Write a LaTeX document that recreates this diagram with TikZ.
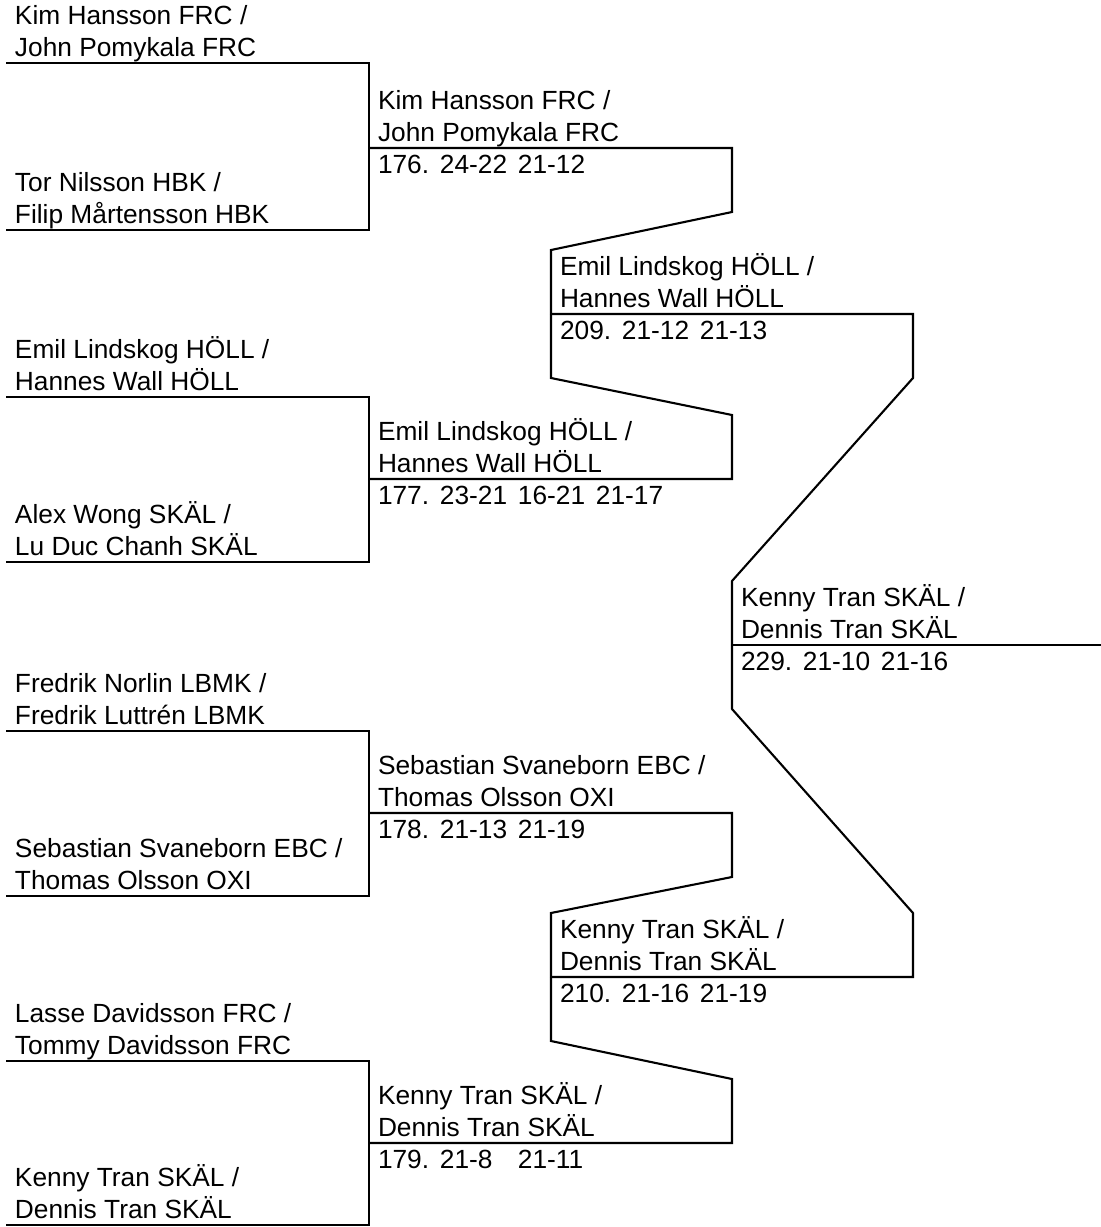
\documentclass[tikz,border=0pt]{standalone}
\usepackage{fontspec}
\setmainfont{Liberation Sans}
\newcommand\scorerow[4]{\makebox[62pt][l]{#1}\makebox[78pt][l]{#2}\makebox[78pt][l]{#3}#4}
\begin{document}
\begin{tikzpicture}[x=1pt,y=-1pt,
  ln/.style={line width=2.1pt,line join=miter},
  txt/.style={anchor=base west,inner sep=0pt,outer sep=0pt,font=\fontsize{26.3}{32}\selectfont}]
\useasboundingbox (0,0) rectangle (1101,1227);
\def\XA{6}\def\XB{369}\def\XC{551}\def\XD{732}\def\XE{913}\def\XF{1101}
\def\dd{64}
% ---------- coordinates: round 1 ----------
\coordinate (a1) at (\XA,63);   \coordinate (a1e) at (\XB,63);
\coordinate (a2) at (\XA,230);  \coordinate (a2e) at (\XB,230);
\coordinate (a3) at (\XA,397);  \coordinate (a3e) at (\XB,397);
\coordinate (a4) at (\XA,562);  \coordinate (a4e) at (\XB,562);
\coordinate (a5) at (\XA,731);  \coordinate (a5e) at (\XB,731);
\coordinate (a6) at (\XA,896);  \coordinate (a6e) at (\XB,896);
\coordinate (a7) at (\XA,1061); \coordinate (a7e) at (\XB,1061);
\coordinate (a8) at (\XA,1225); \coordinate (a8e) at (\XB,1225);
% ---------- round 2 ----------
\coordinate (b1) at (\XB,148);  \coordinate (b1e) at (\XD,148);
\coordinate (b2) at (\XB,479);  \coordinate (b2e) at (\XD,479);
\coordinate (b3) at (\XB,813);  \coordinate (b3e) at (\XD,813);
\coordinate (b4) at (\XB,1143); \coordinate (b4e) at (\XD,1143);
% ---------- round 3 ----------
\coordinate (c1) at (\XC,314);  \coordinate (c1e) at (\XE,314);
\coordinate (c2) at (\XC,977);  \coordinate (c2e) at (\XE,977);
% ---------- final ----------
\coordinate (d1) at (\XD,645);  \coordinate (d1e) at (\XF,645);

% ---------- round 1 brackets ----------
\draw[ln] (a1) -- (a1e) -- (a2e) -- (a2);
\draw[ln] (a3) -- (a3e) -- (a4e) -- (a4);
\draw[ln] (a5) -- (a5e) -- (a6e) -- (a6);
\draw[ln] (a7) -- (a7e) -- (a8e) -- (a8);
% ---------- round 2 lines and connectors ----------
\draw[ln] (b1) -- (b1e) -- ([yshift=-\dd pt]b1e) -- ([yshift=\dd pt]c1) -- (c1);
\draw[ln] (b2) -- (b2e) -- ([yshift=\dd pt]b2e) -- ([yshift=-\dd pt]c1) -- (c1);
\draw[ln] (b3) -- (b3e) -- ([yshift=-\dd pt]b3e) -- ([yshift=\dd pt]c2) -- (c2);
\draw[ln] (b4) -- (b4e) -- ([yshift=\dd pt]b4e) -- ([yshift=-\dd pt]c2) -- (c2);
% ---------- round 3 lines and connectors ----------
\draw[ln] (c1) -- (c1e) -- ([yshift=-\dd pt]c1e) -- ([yshift=\dd pt]d1) -- (d1);
\draw[ln] (c2) -- (c2e) -- ([yshift=\dd pt]c2e) -- ([yshift=-\dd pt]d1) -- (d1);
% ---------- final ----------
\draw[ln] (d1) -- (d1e);

% ---------- names ----------
\node[txt] (t1a) at ([shift={(9,-38.5)}]a1) {Kim Hansson FRC /};
\node[txt] (t1b) at ([shift={(9,-6.5)}]a1) {John Pomykala FRC};
\node[txt] (t2a) at ([shift={(9,-38.5)}]a2) {Tor Nilsson HBK /};
\node[txt] (t2b) at ([shift={(9,-6.5)}]a2) {Filip Mårtensson HBK};
\node[txt] (t3a) at ([shift={(9,-38.5)}]a3) {Emil Lindskog HÖLL /};
\node[txt] (t3b) at ([shift={(9,-6.5)}]a3) {Hannes Wall HÖLL};
\node[txt] (t4a) at ([shift={(9,-38.5)}]a4) {Alex Wong SKÄL /};
\node[txt] (t4b) at ([shift={(9,-6.5)}]a4) {Lu Duc Chanh SKÄL};
\node[txt] (t5a) at ([shift={(9,-38.5)}]a5) {Fredrik Norlin LBMK /};
\node[txt] (t5b) at ([shift={(9,-6.5)}]a5) {Fredrik Luttrén LBMK};
\node[txt] (t6a) at ([shift={(9,-38.5)}]a6) {Sebastian Svaneborn EBC /};
\node[txt] (t6b) at ([shift={(9,-6.5)}]a6) {Thomas Olsson OXI};
\node[txt] (t7a) at ([shift={(9,-38.5)}]a7) {Lasse Davidsson FRC /};
\node[txt] (t7b) at ([shift={(9,-6.5)}]a7) {Tommy Davidsson FRC};
\node[txt] (t8a) at ([shift={(9,-38.5)}]a8) {Kenny Tran SKÄL /};
\node[txt] (t8b) at ([shift={(9,-6.5)}]a8) {Dennis Tran SKÄL};

\node[txt] (u1a) at ([shift={(9,-38.5)}]b1) {Kim Hansson FRC /};
\node[txt] (u1b) at ([shift={(9,-6.5)}]b1) {John Pomykala FRC};
\node[txt] (u1s) at ([shift={(9,25)}]b1) {\scorerow{176.}{24-22}{21-12}{}};
\node[txt] (u2a) at ([shift={(9,-38.5)}]b2) {Emil Lindskog HÖLL /};
\node[txt] (u2b) at ([shift={(9,-6.5)}]b2) {Hannes Wall HÖLL};
\node[txt] (u2s) at ([shift={(9,25)}]b2) {\scorerow{177.}{23-21}{16-21}{21-17}};
\node[txt] (u3a) at ([shift={(9,-38.5)}]b3) {Sebastian Svaneborn EBC /};
\node[txt] (u3b) at ([shift={(9,-6.5)}]b3) {Thomas Olsson OXI};
\node[txt] (u3s) at ([shift={(9,25)}]b3) {\scorerow{178.}{21-13}{21-19}{}};
\node[txt] (u4a) at ([shift={(9,-38.5)}]b4) {Kenny Tran SKÄL /};
\node[txt] (u4b) at ([shift={(9,-6.5)}]b4) {Dennis Tran SKÄL};
\node[txt] (u4s) at ([shift={(9,25)}]b4) {\scorerow{179.}{21-8}{21-11}{}};

\node[txt] (v1a) at ([shift={(9,-38.5)}]c1) {Emil Lindskog HÖLL /};
\node[txt] (v1b) at ([shift={(9,-6.5)}]c1) {Hannes Wall HÖLL};
\node[txt] (v1s) at ([shift={(9,25)}]c1) {\scorerow{209.}{21-12}{21-13}{}};
\node[txt] (v2a) at ([shift={(9,-38.5)}]c2) {Kenny Tran SKÄL /};
\node[txt] (v2b) at ([shift={(9,-6.5)}]c2) {Dennis Tran SKÄL};
\node[txt] (v2s) at ([shift={(9,25)}]c2) {\scorerow{210.}{21-16}{21-19}{}};

\node[txt] (w1a) at ([shift={(9,-38.5)}]d1) {Kenny Tran SKÄL /};
\node[txt] (w1b) at ([shift={(9,-6.5)}]d1) {Dennis Tran SKÄL};
\node[txt] (w1s) at ([shift={(9,25)}]d1) {\scorerow{229.}{21-10}{21-16}{}};
\end{tikzpicture}
\end{document}
